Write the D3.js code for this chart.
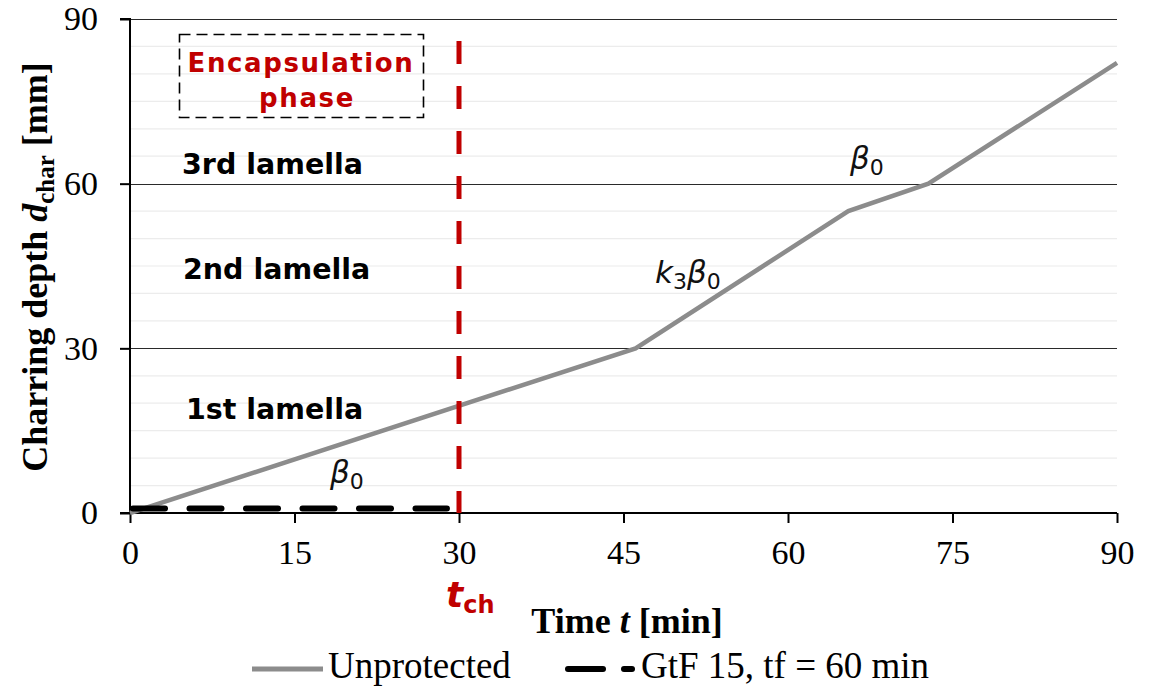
<!DOCTYPE html>
<html><head><meta charset="utf-8">
<script src="https://cdn.jsdelivr.net/npm/d3@7"></script>
<style>body{margin:0;background:#fff}svg{display:block}</style>
</head><body><svg id="c" width="1155" height="692"></svg>
<script>
const xTicks = [0, 15, 30, 45, 60, 75, 90];
const yTicks = [0, 30, 60, 90];
const minorTicks = [5,10,15,20,25,35,40,45,50,55,65,70,75,80,85];
const unprotectedT = [0, 46.1, 65.5, 72.8, 90];
const unprotectedD = [0, 30, 55, 60, 82];
const gtfT = [0, 28.9];
const gtfD = [0.8, 0.8];
const tch = 30;
const tchTop = 86;
const lamellaLabels = ["1st lamella", "2nd lamella", "3rd lamella"];
const lamellaY = [19, 44.5, 63.5];
const seriesNames = ["Unprotected", "GtF 15, tf = 60 min"];

const svg = d3.select("#c");
const L = 130, R = 1117, T = 19, B = 513;
const x = d3.scaleLinear().domain([0, 90]).range([L, R]);
const y = d3.scaleLinear().domain([0, 90]).range([B, T]);
const serif = "'Liberation Serif','Times New Roman',serif";
const sans = "'DejaVu Sans',Verdana,sans-serif";

// minor gridlines
svg.append("g").selectAll("line").data(minorTicks).join("line")
  .attr("x1", L).attr("x2", R).attr("y1", d => y(d)).attr("y2", d => y(d))
  .attr("stroke", "#ececec").attr("stroke-width", 1.2);
// major gridlines
svg.append("g").selectAll("line").data(yTicks.filter(d => d > 0)).join("line")
  .attr("x1", L).attr("x2", R).attr("y1", d => Math.round(y(d)) + 0.5).attr("y2", d => Math.round(y(d)) + 0.5)
  .attr("stroke", "#2a2a2a").attr("stroke-width", 1.2);

// axes
const yAxis = d3.axisLeft(y).tickValues(yTicks).tickSize(10).tickPadding(22);
const gy = svg.append("g").attr("transform", `translate(${L},0)`).call(yAxis);
gy.select(".domain").attr("stroke", "#000").attr("stroke-width", 2).attr("d", `M-10,${T}H0V${B}`);
gy.selectAll(".tick line").attr("stroke", "#000").attr("stroke-width", 2);
gy.selectAll(".tick text").attr("font-family", serif).attr("font-size", 34).attr("fill", "#000");

const xAxis = d3.axisBottom(x).tickValues(xTicks).tickSize(10).tickPadding(17);
const gx = svg.append("g").attr("transform", `translate(0,${B})`).call(xAxis);
gx.select(".domain").attr("stroke", "#000").attr("stroke-width", 2).attr("d", `M${L - 10},0H${R}`);
gx.selectAll(".tick line").attr("stroke", "#000").attr("stroke-width", 2);
gx.selectAll(".tick text").attr("font-family", serif).attr("font-size", 34).attr("fill", "#000");

// lines
const line = d3.line().x(d => x(d[0])).y(d => y(d[1]));
svg.append("path").datum(unprotectedT.map((t, i) => [t, unprotectedD[i]]))
  .attr("d", line).attr("fill", "none").attr("stroke", "#8c8c8c").attr("stroke-width", 4.5);
svg.append("path").datum(gtfT.map((t, i) => [t, gtfD[i]]))
  .attr("d", line).attr("fill", "none").attr("stroke", "#000").attr("stroke-width", 6)
  .attr("stroke-dasharray", "32,24.5").attr("stroke-dashoffset", -3).attr("stroke-linecap", "round");

// red vertical
svg.append("line").attr("x1", x(tch)).attr("x2", x(tch)).attr("y1", y(tchTop)).attr("y2", y(0))
  .attr("stroke", "#c00000").attr("stroke-width", 5).attr("stroke-dasharray", "23,22");

// lamella labels
svg.append("g").selectAll("text").data(lamellaLabels).join("text")
  .attr("x", (d, i) => [186, 183, 182][i]).attr("y", (d, i) => y(lamellaY[i]) + 10)
  .attr("font-family", sans).attr("font-weight", "bold").attr("font-size", 28.5).attr("fill", "#000")
  .text(d => d);

// encapsulation box
svg.append("rect").attr("x", 179.5).attr("y", 34.5).attr("width", 244).attr("height", 83)
  .attr("fill", "none").attr("stroke", "#000").attr("stroke-width", 1.6).attr("stroke-dasharray", "11,6");
svg.append("text").attr("x", 301).attr("y", 72).attr("text-anchor", "middle")
  .attr("font-family", sans).attr("font-weight", "bold").attr("font-size", 26).attr("letter-spacing", 1.6)
  .attr("fill", "#c00000").text("Encapsulation");
svg.append("text").attr("x", 307).attr("y", 107).attr("text-anchor", "middle")
  .attr("font-family", sans).attr("font-weight", "bold").attr("font-size", 26).attr("letter-spacing", 1.6)
  .attr("fill", "#c00000").text("phase");

// beta labels
function beta(px, py, pre) {
  const t = svg.append("text").attr("x", px).attr("y", py).attr("font-family", sans).attr("font-size", 31).attr("fill", "#111");
  if (pre) {
    t.append("tspan").attr("font-style", "italic").text("k");
    t.append("tspan").attr("font-size", 22).attr("dy", 6).text("3");
    t.append("tspan").attr("font-style", "italic").attr("dy", -6).text("β");
  } else {
    t.append("tspan").attr("font-style", "italic").text("β");
  }
  t.append("tspan").attr("font-size", 22).attr("dy", 6).text("0");
}
beta(330, 483, false);
beta(655, 283, true);
beta(850, 169, false);

// t_ch
const tt = svg.append("text").attr("x", 446).attr("y", 607).attr("fill", "#c00000").attr("font-family", sans).attr("font-weight", "bold");
tt.append("tspan").attr("font-size", 36).attr("font-style", "italic").text("t");
tt.append("tspan").attr("font-size", 24).attr("dy", 6).text("ch");

// axis titles
const xt = svg.append("text").attr("x", 627).attr("y", 633).attr("text-anchor", "middle")
  .attr("font-family", serif).attr("font-weight", "bold").attr("font-size", 36).attr("fill", "#000");
xt.append("tspan").text("Time ");
xt.append("tspan").attr("font-style", "italic").text("t");
xt.append("tspan").text(" [min]");

const yt = svg.append("text").attr("transform", `translate(47,267) rotate(-90)`).attr("text-anchor", "middle")
  .attr("font-family", serif).attr("font-weight", "bold").attr("font-size", 36).attr("fill", "#000");
yt.append("tspan").text("Charring depth ");
yt.append("tspan").attr("font-style", "italic").text("d");
yt.append("tspan").attr("font-size", 25).attr("dy", 7).text("char");
yt.append("tspan").attr("dy", -7).text(" [mm]");

// legend
const lg = svg.append("g");
lg.append("line").attr("x1", 252).attr("x2", 323).attr("y1", 669).attr("y2", 669).attr("stroke", "#8c8c8c").attr("stroke-width", 5);
lg.append("text").attr("x", 328).attr("y", 678).attr("font-family", serif).attr("font-size", 37).attr("fill", "#000").text(seriesNames[0]);
lg.append("line").attr("x1", 568).attr("x2", 603).attr("y1", 669).attr("y2", 669).attr("stroke", "#000").attr("stroke-width", 6).attr("stroke-linecap", "round");
lg.append("line").attr("x1", 624).attr("x2", 632).attr("y1", 669).attr("y2", 669).attr("stroke", "#000").attr("stroke-width", 6).attr("stroke-linecap", "round");
lg.append("text").attr("x", 641).attr("y", 678).attr("font-family", serif).attr("font-size", 37).attr("fill", "#000").text(seriesNames[1]);
</script></body></html>
